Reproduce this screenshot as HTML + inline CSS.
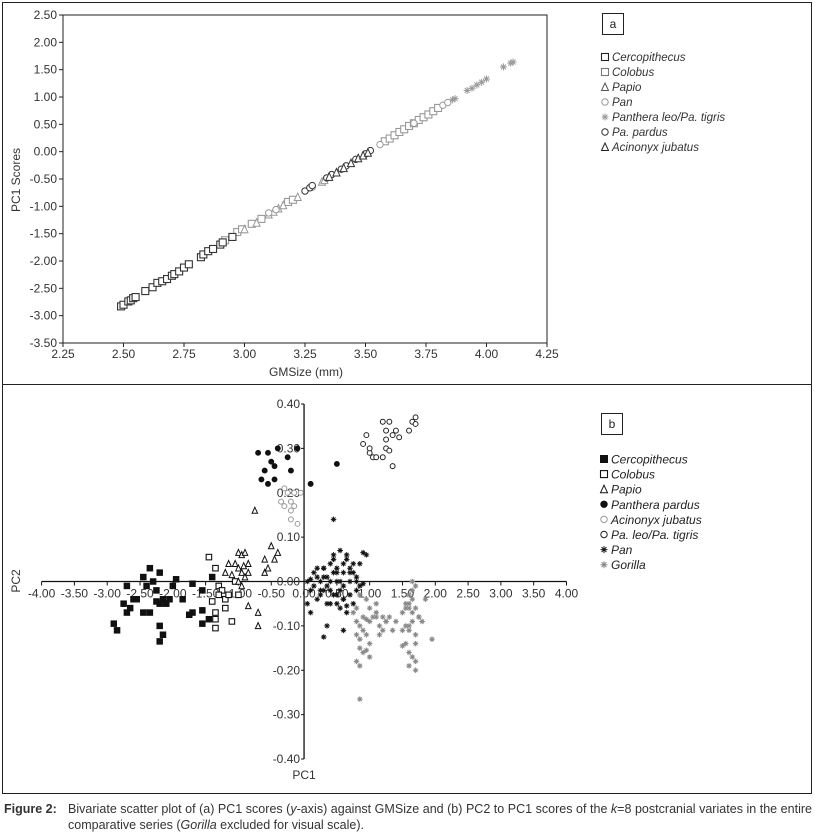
<!DOCTYPE html>
<html><head><meta charset="utf-8"><style>
html,body{margin:0;padding:0;background:#fff;}
svg{display:block;font-family:"Liberation Sans Narrow","Liberation Sans",sans-serif;}
.cap{font-family:"Liberation Sans Narrow","Liberation Sans",sans-serif;font-size:12.5px;fill:#333;}
</style></head><body>
<svg id="fig" width="815" height="837" viewBox="0 0 815 837">
<rect x="2.5" y="2.5" width="809" height="382" fill="none" stroke="#222"/>
<rect x="2.5" y="384.5" width="809" height="409" fill="none" stroke="#222"/>
<g id="pa"></g>
<g id="pb"></g>
<text x="4" y="813" class="cap" font-weight="bold">Figure 2:</text>
<text x="68" y="813" class="cap" textLength="744" lengthAdjust="spacing">Bivariate scatter plot of (a) PC1 scores (<tspan font-style="italic">y</tspan>-axis) against GMSize and (b) PC2 to PC1 scores of the <tspan font-style="italic">k</tspan>=8 postcranial variates in the entire</text>
<text x="68" y="829" class="cap">comparative series (<tspan font-style="italic">Gorilla</tspan> excluded for visual scale).</text>
</svg>
<script>
// ---------- Panel A data ----------
const aXTicks = ["2.25","2.50","2.75","3.00","3.25","3.50","3.75","4.00","4.25"];
const aYTicks = ["2.50","2.00","1.50","1.00","0.50","0.00","-0.50","-1.00","-1.50","-2.00","-2.50","-3.00","-3.50"];
const aNames = ["Cercopithecus","Colobus","Papio","Pan","Panthera leo/Pa. tigris","Pa. pardus","Acinonyx jubatus"];
const aCercoX = [2.49,2.50,2.52,2.53,2.54,2.55,2.59,2.62,2.64,2.66,2.68,2.70,2.71,2.73,2.75,2.77,2.82,2.83,2.85,2.87,2.90,2.91,2.95];
const aCercoY = [-2.83,-2.80,-2.74,-2.72,-2.68,-2.66,-2.55,-2.48,-2.40,-2.37,-2.33,-2.27,-2.24,-2.19,-2.12,-2.06,-1.93,-1.88,-1.82,-1.78,-1.70,-1.66,-1.56];
const aColX = [2.92,2.97,2.99,3.03,3.07,3.18,3.20,3.58,3.60,3.62,3.64,3.66,3.68,3.70,3.72,3.74,3.76,3.78,3.80];
const aColY = [-1.62,-1.47,-1.42,-1.32,-1.23,-0.92,-0.88,0.19,0.24,0.30,0.36,0.41,0.47,0.52,0.58,0.63,0.68,0.74,0.80];
const aPapX = [3.00,3.05,3.10,3.12,3.14,3.16,3.22,3.32,3.33];
const aPapY = [-1.42,-1.30,-1.15,-1.10,-1.04,-0.98,-0.83,-0.55,-0.52];
const aPanX = [3.10,3.13,3.28,3.56,3.70,3.82,3.84];
const aPanY = [-1.12,-1.06,-0.65,0.13,0.52,0.85,0.90];
const aLeoX = [3.86,3.87,3.92,3.94,3.96,3.98,4.00,4.07,4.10,4.11];
const aLeoY = [0.95,0.97,1.12,1.16,1.22,1.27,1.33,1.55,1.62,1.64];
const aParX = [3.25,3.27,3.28,3.34,3.36,3.40,3.42,3.46,3.50,3.52];
const aParY = [-0.72,-0.66,-0.62,-0.48,-0.42,-0.32,-0.26,-0.14,-0.04,0.02];
const aAciX = [3.35,3.38,3.41,3.44,3.47,3.49,3.51];
const aAciY = [-0.46,-0.38,-0.30,-0.21,-0.12,-0.07,-0.02];

// ---------- Panel B data ----------
const bXTicks = ["-4.00","-3.50","-3.00","-2.50","-2.00","-1.50","-1.00","-0.50","0.00","0.50","1.00","1.50","2.00","2.50","3.00","3.50","4.00"];
const bYTicks = ["0.40","0.30","0.20","0.10","0.00","-0.10","-0.20","-0.30","-0.40"];
const bNames = ["Cercopithecus","Colobus","Papio","Panthera pardus","Acinonyx jubatus","Pa. leo/Pa. tigris","Pan","Gorilla"];
const bCercoX = [-2.9,-2.85,-2.75,-2.7,-2.65,-2.6,-2.7,-2.55,-2.45,-2.35,-2.45,-2.35,-2.2,-2.25,-2.2,-2.15,-2.2,-2.15,-2.2,-2.1,-2.05,-2.0,-1.95,-1.85,-1.75,-1.7,-1.55,-1.55,-1.45,-1.4,-1.55,-1.7,-2.3,-2.4,-2.25];
const bCercoY = [-0.095,-0.11,-0.05,-0.07,-0.06,-0.04,-0.01,-0.04,-0.07,-0.07,0.01,0.03,0.02,-0.02,-0.05,-0.04,-0.10,-0.12,-0.135,-0.05,-0.04,-0.01,0.005,-0.04,-0.075,-0.07,-0.095,-0.065,-0.085,0.01,-0.02,-0.005,0.0,-0.01,-0.045];
const bColX = [-1.45,-1.35,-1.4,-1.35,-1.35,-1.35,-1.3,-1.25,-1.2,-1.2,-1.1,-1.15,-1.0,-1.05,-1.3];
const bColY = [0.055,0.03,-0.045,-0.07,-0.085,-0.105,-0.01,-0.02,-0.04,-0.06,-0.09,-0.03,-0.03,0.0,-0.03];
const bPapX = [-0.75,-0.5,-0.6,-0.6,-0.4,-0.45,-0.55,-0.85,-0.7,-0.7,-1.0,-0.95,-0.9,-1.05,-1.0,-0.95,-0.9,-1.1,-1.2,-0.92,-1.0,-0.95,-0.85,-0.85,-1.15];
const bPapY = [0.16,0.08,0.05,0.02,0.065,0.05,0.03,-0.055,-0.07,-0.10,0.065,0.06,0.065,0.04,0.03,0.02,0.01,0.015,0.02,0.035,0.0,-0.01,0.02,0.04,0.04];
const bParX = [-0.7,-0.55,-0.4,-0.25,-0.5,-0.45,-0.2,-0.55,-0.45,-0.65,0.1,0.5,-0.1,-0.6];
const bParY = [0.29,0.29,0.30,0.28,0.27,0.26,0.25,0.22,0.23,0.23,0.22,0.265,0.30,0.25];
const bAciX = [-0.3,-0.25,-0.2,-0.15,-0.2,-0.15,-0.35,-0.3,-0.2,-0.1,-0.05];
const bAciY = [0.21,0.20,0.18,0.20,0.16,0.17,0.18,0.17,0.14,0.13,0.20];
const bLeoX = [0.9,0.95,1.0,1.05,1.0,1.2,1.25,1.3,1.35,1.4,1.45,1.25,1.3,1.2,1.1,1.35,1.6,1.65,1.7,1.7,1.25];
const bLeoY = [0.31,0.33,0.29,0.28,0.30,0.36,0.34,0.36,0.33,0.34,0.325,0.30,0.295,0.28,0.28,0.26,0.34,0.36,0.37,0.355,0.32];
const bPanX = [0.45,0.3,0.35,0.6,0.1,0.05,0.1,0.15,0.2,0.25,0.3,0.35,0.4,0.45,0.5,0.55,0.6,0.65,0.7,0.75,0.8,0.85,0.9,0.95,0.1,0.2,0.3,0.4,0.5,0.6,0.7,0.8,0.15,0.25,0.35,0.45,0.55,0.65,0.75,0.2,0.3,0.4,0.5,0.6,0.7,0.35,0.45,0.55,0.65,0.75,0.85,0.4,0.5,0.6,0.3,0.45,0.55,0.5,0.6,0.7,0.8,0.05,0.9,0.25,0.65];
const bPanY = [0.14,-0.125,-0.10,-0.11,-0.07,0.0,0.005,-0.01,0.03,0.0,-0.02,0.01,0.0,-0.03,0.02,0.0,-0.01,0.05,0.03,0.02,0.01,0.04,0.065,0.06,-0.02,-0.04,0.03,0.04,-0.05,0.04,0.0,-0.02,0.02,-0.03,-0.05,0.05,0.07,0.06,0.04,0.01,0.01,-0.02,0.03,-0.04,-0.03,-0.01,0.02,-0.06,-0.07,-0.05,-0.01,-0.05,-0.03,0.02,0.03,0.06,-0.02,0.0,-0.04,0.02,0.0,-0.05,-0.005,-0.02,-0.055];
const bGorX = [0.85,0.75,0.8,0.85,0.9,0.95,1.0,1.05,1.1,0.8,0.85,0.9,0.95,1.0,0.85,0.9,1.0,0.8,0.85,0.95,1.15,1.2,1.25,1.2,1.35,1.4,1.5,1.55,1.6,1.65,1.7,1.75,1.8,1.55,1.6,1.65,1.7,1.75,1.6,1.65,1.7,1.5,1.55,1.6,1.65,1.7,1.55,1.6,1.65,1.95,1.5,1.6,1.7,1.65,1.3,1.1,0.8,0.95,1.15,1.85,1.6,1.7,0.85,1.0,1.25,1.1];
const bGorY = [-0.265,-0.07,-0.09,-0.10,-0.08,-0.085,-0.09,-0.08,-0.08,-0.12,-0.13,-0.11,-0.12,-0.14,-0.15,-0.16,-0.17,-0.18,-0.19,-0.155,-0.10,-0.11,-0.09,-0.08,-0.11,-0.09,-0.07,-0.06,-0.05,-0.07,-0.06,-0.08,-0.09,-0.10,-0.11,-0.09,-0.12,-0.08,-0.03,-0.02,-0.01,-0.145,-0.14,-0.16,-0.17,-0.18,-0.05,-0.06,-0.04,-0.13,-0.11,-0.19,-0.20,0.0,-0.08,-0.05,-0.06,-0.04,-0.12,-0.04,-0.10,-0.14,-0.03,-0.06,-0.09,-0.07];

const NS = "http://www.w3.org/2000/svg";
function mk(parent, tag, attrs, text){
  const e = document.createElementNS(NS, tag);
  for (const k in attrs) e.setAttribute(k, attrs[k]);
  if (text !== undefined) e.textContent = text;
  parent.appendChild(e);
  return e;
}
function marker(g, kind, cx, cy, s, color){
  let e;
  const h = s/2;
  if (kind === "sq") e = mk(g,"rect",{x:cx-h,y:cy-h,width:s,height:s,fill:"#fff",stroke:color,"stroke-width":1.1});
  else if (kind === "fsq") e = mk(g,"rect",{x:cx-h,y:cy-h,width:s,height:s,fill:color,stroke:color});
  else if (kind === "tri") e = mk(g,"path",{d:`M${cx} ${cy-h-0.5}L${cx+h} ${cy+h}L${cx-h} ${cy+h}Z`,fill:"#fff",stroke:color,"stroke-width":1});
  else if (kind === "circ") e = mk(g,"circle",{cx:cx,cy:cy,r:h-0.3,fill:"#fff",stroke:color,"stroke-width":1});
  else if (kind === "fcirc") e = mk(g,"circle",{cx:cx,cy:cy,r:h-0.3,fill:color,stroke:color});
  else {
    e = mk(g,"path",{d:`M${cx-h} ${cy}H${cx+h}M${cx} ${cy-h}V${cy+h}M${cx-h*0.7} ${cy-h*0.7}L${cx+h*0.7} ${cy+h*0.7}M${cx+h*0.7} ${cy-h*0.7}L${cx-h*0.7} ${cy+h*0.7}`,stroke:color,"stroke-width":1,fill:"none"});
  }
  return e;
}

// ---------- Panel A ----------
(function(){
  const g = document.getElementById("pa");
  const L=63,R=547,T=15,B=343, x0=2.25,x1=4.25,y0=-3.5,y1=2.5;
  const sx = v => L + (v-x0)/(x1-x0)*(R-L);
  const sy = v => B - (v-y0)/(y1-y0)*(B-T);
  const box = mk(g,"rect",{x:L,y:T,width:R-L,height:B-T,fill:"none",stroke:"#222","stroke-width":1});
  
  
  aYTicks.forEach(t=>{
    const y = sy(parseFloat(t));
    mk(g,"line",{x1:L-4,x2:L,y1:y,y2:y,stroke:"#222"});
    const tx = mk(g,"text",{x:L-6,y:y+4,"text-anchor":"end","font-size":12,fill:"#333"},t);
    
    
  });
  aXTicks.forEach(t=>{
    const x = sx(parseFloat(t));
    mk(g,"line",{x1:x,x2:x,y1:B,y2:B+4,stroke:"#222"});
    const tx = mk(g,"text",{x:x,y:B+15,"text-anchor":"middle","font-size":12,fill:"#333"},t);
    
    
  });
  const xt = mk(g,"text",{x:306,y:376,"text-anchor":"middle","font-size":12,fill:"#333"},"GMSize (mm)");
  
  
  const yt = mk(g,"text",{x:0,y:0,transform:"translate(20,180) rotate(-90)","text-anchor":"middle","font-size":12,fill:"#333"},"PC1 Scores");
  
  
  const series = [
    [aColX,aColY,"sq","#999"],[aPapX,aPapY,"tri","#999"],[aPanX,aPanY,"circ","#999"],[aLeoX,aLeoY,"ast","#999"],
    [aCercoX,aCercoY,"sq","#333"],[aParX,aParY,"circ","#333"],[aAciX,aAciY,"tri","#333"]
  ];
  series.forEach(s=>{
    const sg = mk(g,"g",{});
    
    
    s[0].forEach((xv,i)=>{
      const m = marker(sg,s[2],sx(xv),sy(s[1][i]),7,s[3]);
      
      
    });
  });
  // legend
  const lb = mk(g,"rect",{x:602.5,y:13.5,width:21,height:21,fill:"#fff",stroke:"#222"});
  
  
  mk(g,"text",{x:613,y:28,"text-anchor":"middle","font-size":12,fill:"#222"},"a");
  const lk = [["sq","#222"],["sq","#777"],["tri","#555"],["circ","#999"],["ast","#999"],["circ","#333"],["tri","#222"]];
  aNames.forEach((n,i)=>{
    const y = 58 + i*15;
    const lg = mk(g,"g",{});
    
    
    marker(lg,lk[i][0],605,y-1,7,lk[i][1]);
    mk(lg,"text",{x:612,y:y+3,"font-size":11.5,"font-style":"italic",fill:"#333"},n);
  });
})();

// ---------- Panel B ----------
(function(){
  const g = document.getElementById("pb");
  const x0=-4,x1=4,y0=-0.4,y1=0.4, L=41.6,R=566.5,T=404,B=759;
  const sx = v => L + (v-x0)/(x1-x0)*(R-L);
  const sy = v => B - (v-y0)/(y1-y0)*(B-T);
  const X0 = sx(0), Y0 = sy(0);
  const ax = mk(g,"line",{x1:L,x2:R,y1:Y0,y2:Y0,stroke:"#111","stroke-width":1.3});
  
  
  const ay = mk(g,"line",{x1:X0,x2:X0,y1:T,y2:B,stroke:"#111","stroke-width":1.3});
  
  
  bXTicks.forEach(t=>{
    const x = sx(parseFloat(t));
    mk(g,"line",{x1:x,x2:x,y1:Y0,y2:Y0+4,stroke:"#111"});
    const tx = mk(g,"text",{x:x,y:Y0+16,"text-anchor":"middle","font-size":12,fill:"#333"},t);
    
    
  });
  bYTicks.forEach(t=>{
    const y = sy(parseFloat(t));
    mk(g,"line",{x1:X0-3,x2:X0,y1:y,y2:y,stroke:"#111"});
    const tx = mk(g,"text",{x:X0-4,y:y+4,"text-anchor":"end","font-size":12,fill:"#333"},t);
    
    
  });
  const xt = mk(g,"text",{x:X0,y:779,"text-anchor":"middle","font-size":12,fill:"#333"},"PC1");
  
  
  const yt = mk(g,"text",{x:0,y:0,transform:"translate(20,581) rotate(-90)","text-anchor":"middle","font-size":12,fill:"#333"},"PC2");
  
  
  const series = [
    [bGorX,bGorY,"ast","#888"],[bCercoX,bCercoY,"fsq","#111"],[bColX,bColY,"sq","#111"],[bPapX,bPapY,"tri","#111"],
    [bParX,bParY,"fcirc","#111"],[bAciX,bAciY,"circ","#999"],[bLeoX,bLeoY,"circ","#222"],[bPanX,bPanY,"ast","#111"]
  ];
  series.forEach(s=>{
    const sg = mk(g,"g",{});
    
    
    s[0].forEach((xv,i)=>{
      const m = marker(sg,s[2],sx(xv),sy(s[1][i]),5.5,s[3]);
      
      
    });
  });
  const lb = mk(g,"rect",{x:601.5,y:413.5,width:21,height:21,fill:"#fff",stroke:"#222"});
  
  
  mk(g,"text",{x:612,y:428,"text-anchor":"middle","font-size":12,fill:"#222"},"b");
  const lk = [["fsq","#111"],["sq","#111"],["tri","#111"],["fcirc","#111"],["circ","#999"],["circ","#222"],["ast","#111"],["ast","#888"]];
  bNames.forEach((n,i)=>{
    const y = 460 + i*15.1;
    const lg = mk(g,"g",{});
    
    
    marker(lg,lk[i][0],604,y-1,7,lk[i][1]);
    mk(lg,"text",{x:611,y:y+3.5,"font-size":12,"font-style":"italic",fill:"#222"},n);
  });
})();
</script>
</body></html>
